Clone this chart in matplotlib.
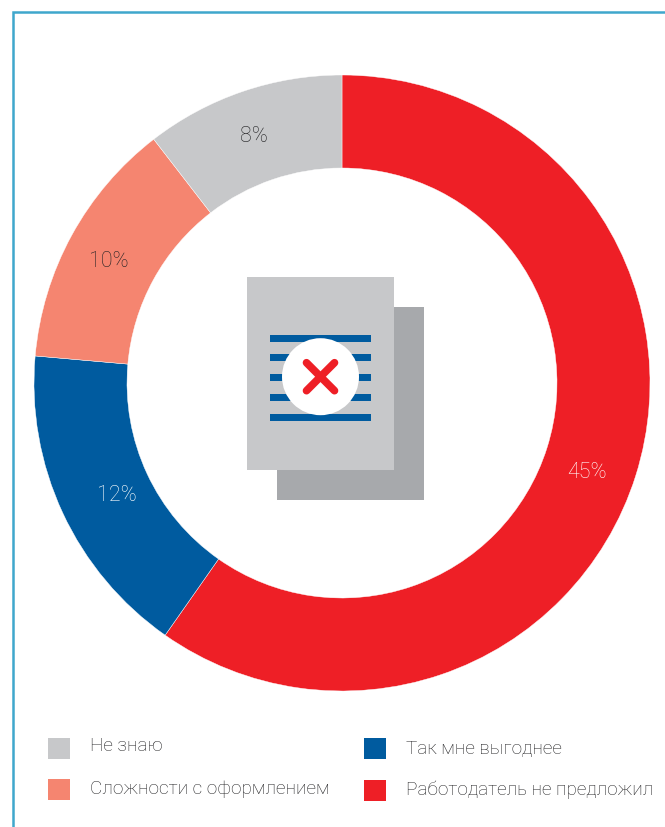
import matplotlib
matplotlib.use("Agg")
import matplotlib.pyplot as plt
from matplotlib.patches import Rectangle, Circle

# Данные
kategorii = ["Работодатель не предложил", "Так мне выгоднее", "Сложности с оформлением", "Не знаю"]
podpisi = ["45%", "12%", "10%", "8%"]
# доли секторов (подписи округлены)
znacheniya = [44.8, 12.5, 9.85, 7.85]
cveta = ["#ee1f26", "#005b9f", "#f58570", "#c7c8ca"]

W, H = 665, 827

plt.rcParams['font.family'] = ['Roboto', 'DejaVu Sans']


def py(y):
    # пиксели сверху вниз -> координаты оси
    return H - y


fig = plt.figure(figsize=(W / 100, H / 100), dpi=100)
ax = fig.add_axes([0, 0, 1, 1])

# Кольцо
ax.pie(znacheniya, colors=cveta, startangle=90, counterclock=False,
       center=(342, py(383)), radius=308,
       wedgeprops=dict(width=93, edgecolor="white", linewidth=0.3))
ax.set_xlim(0, W)
ax.set_ylim(0, H)
ax.set_aspect("equal")
ax.axis("off")

# Подписи процентов
pos_pct = [(587, 472.5), (117, 495.5), (109, 261.5), (254, 136.5)]
cvet_pct = ["#ffffff", "#ffffff", "#222224", "#222224"]
for t, (x, y), c in zip(podpisi, pos_pct, cvet_pct):
    ax.text(x, py(y), t, ha="center", va="center", fontsize=15.5,
            fontweight="light", color=c)

# Рамка слева и сверху
ax.plot([13, 13, W], [0, py(12), py(12)], color="#3fa7cc", lw=1.8,
        solid_joinstyle="miter", solid_capstyle="butt")

# Значок документа
ax.add_patch(Rectangle((277, py(500)), 147, 193, color="#a7a9ac", lw=0))
ax.add_patch(Rectangle((247, py(470)), 147, 193, color="#c7c8ca", lw=0))
for y in [335, 354, 374, 394, 414]:
    ax.add_patch(Rectangle((270, py(y + 7)), 101, 7, color="#005b9f", lw=0))
ax.add_patch(Circle((320.5, py(376.7)), 38.5, color="white", lw=0))
ax.plot([306.5, 334.5], [py(362.7), py(390.7)], color="#ee1f26", lw=5.5, solid_capstyle="round")
ax.plot([306.5, 334.5], [py(390.7), py(362.7)], color="#ee1f26", lw=5.5, solid_capstyle="round")

# Легенда
leg_pos = [(364, 780), (364, 738), (48, 779), (48, 738)]
leg_txt = [(406, 790), (406, 749), (90, 789), (90, 746)]
for nazv, c, (x, y), (tx, ty) in zip(kategorii, cveta, leg_pos, leg_txt):
    ax.add_patch(Rectangle((x, py(y + 21)), 22, 21, color=c, lw=0))
    ax.text(tx, py(ty), nazv, ha="left", va="center", fontsize=13.7,
            fontweight="light", color="#222224")

fig.savefig("out.png", dpi=100)
